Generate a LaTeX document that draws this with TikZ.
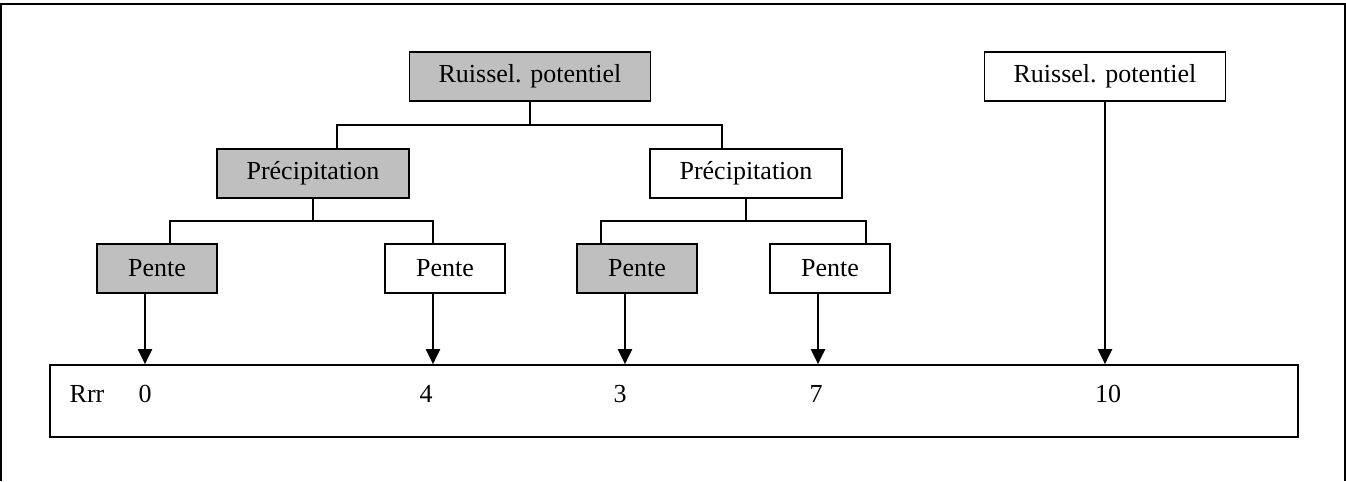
\documentclass[tikz,border=0pt]{standalone}
\usepackage{fontspec}
\setmainfont{Liberation Serif}
\usetikzlibrary{arrows.meta,calc}
\tikzset{
  block/.style={draw, rectangle, line width=1pt, minimum height=0.98cm, minimum width=2.4cm, inner sep=0pt, font=\fontsize{14.8}{17}\selectfont},
  shaded/.style={block, fill=black!25},
  val/.style={anchor=base, inner sep=0pt, font=\fontsize{14.8}{17}\selectfont},
  link/.style={line width=1pt},
  arr/.style={line width=1pt, -{Triangle[length=8.5pt, width=8pt]}},
}
\begin{document}
\begin{tikzpicture}[x=0.02cm, y=-0.02cm]
\useasboundingbox (0,0) rectangle (1346,481);
\draw[line width=1.2pt] (1,481) -- (1,4) -- (1345,4) -- (1345,481);
\node[shaded, minimum width=4.82cm] (root) at (530,76.5) {Ruissel. potentiel};
\node[block, minimum width=4.82cm] (ruis) at (1105,76.5) {Ruissel. potentiel};
\node[shaded, minimum width=3.84cm] (precL) at (313,173.5) {Précipitation};
\node[block, minimum width=3.84cm] (precR) at (746,173.5) {Précipitation};
\node[shaded] (pL1) at (157,268.5) {Pente};
\node[block] (pL2) at (445,268.5) {Pente};
\node[shaded] (pR1) at (637,268.5) {Pente};
\node[block] (pR2) at (830,268.5) {Pente};
\node[block, minimum width=24.96cm, minimum height=1.44cm] (rrr) at (674,401) {};
% values in the bottom box
\node[val] (lab) at (87,402) {Rrr};
\node[val] (v0) at (145,402) {0};
\node[val] (v4) at (426,402) {4};
\node[val] (v3) at (620,402) {3};
\node[val] (v7) at (816,402) {7};
\node[val] (v10) at (1108,402) {10};
% tree
\coordinate (j0) at (530,125);
\coordinate (j1) at (313,221);
\coordinate (j2) at (746,221);
\draw[link] (root.south) -- (j0);
\draw[link] ($(precL.north)+(24,0)$) |- (j0) -| ($(precR.north)+(-24,0)$);
\draw[link] (precL.south) -- (j1);
\draw[link] ($(pL1.north)+(13,0)$) |- (j1) -| ($(pL2.north)+(-12,0)$);
\draw[link] (precR.south) -- (j2);
\draw[link] ($(pR1.north)+(-36,0)$) |- (j2) -| ($(pR2.north)+(36,0)$);
% arrows down
\foreach \p in {pL1,pL2,pR1,pR2} {
  \coordinate (a\p) at ($(\p.south)+(-12,0)$);
  \draw[arr] (a\p) -- (a\p |- rrr.north);
}
\draw[arr] (ruis.south) -- (ruis.south |- rrr.north);
\end{tikzpicture}
\end{document}
